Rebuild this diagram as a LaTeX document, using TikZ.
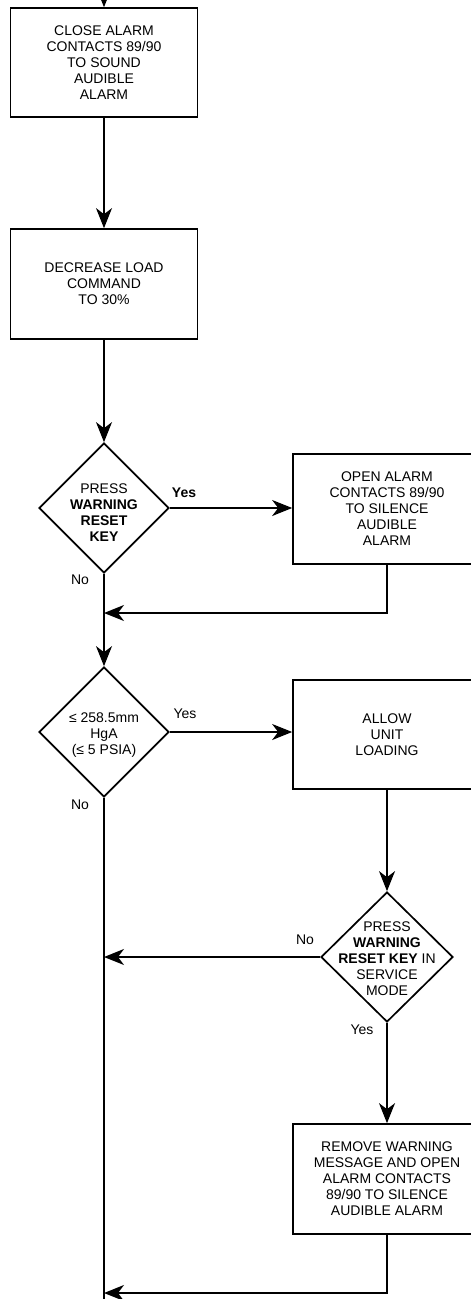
\documentclass[tikz,border=0pt]{standalone}
\usepackage{fontspec}
\setmainfont{Liberation Sans}
\usetikzlibrary{shapes.geometric,arrows.meta}
\begin{document}
\begin{tikzpicture}[x=1pt,y=-1pt,
  every node/.style={font=\fontsize{14}{16}\selectfont},
  boxnode/.style={draw,line width=1.7pt,inner sep=0pt,align=center},
  dia/.style={draw,shape=diamond,line width=1.7pt,inner sep=0pt,aspect=1},
  txt/.style={align=center,inner sep=0pt},
  lbl/.style={inner sep=0pt},
  flow/.style={line width=1.6pt},
  arr/.style={flow,-{Stealth[length=20pt,width=16pt,inset=6pt]}}]
\useasboundingbox (0,0) rectangle (471,1299);
\clip (0,0) rectangle (471,1299);
% left column
\node[boxnode,minimum width=187pt,minimum height=109pt] (b1) at (104,62.5)
  {CLOSE ALARM\\CONTACTS 89/90\\TO SOUND\\AUDIBLE\\ALARM};
\node[boxnode,minimum width=187pt,minimum height=110pt] (b2) at (104,284)
  {DECREASE LOAD\\COMMAND\\TO 30\%};
\node[dia,minimum width=130pt,minimum height=130pt] (d1) at (104,508) {};
\node[txt] (d1t) at (104,513) {PRESS\\\textbf{WARNING}\\\textbf{RESET}\\\textbf{KEY}};
\node[dia,minimum width=130pt,minimum height=130pt] (d2) at (104,732) {};
\node[txt] (d2t) at (104,735) {≤ 258.5mm\\HgA\\(≤ 5 PSIA)};
% right column
\node[boxnode,minimum width=188pt,minimum height=110pt] (b3) at (387,509)
  {OPEN ALARM\\CONTACTS 89/90\\TO SILENCE\\AUDIBLE\\ALARM};
\node[boxnode,minimum width=188pt,minimum height=109pt] (b4) at (387,734.5)
  {ALLOW\\UNIT\\LOADING};
\node[dia,minimum width=132pt,minimum height=130pt] (d3) at (387,957) {};
\node[txt] (d3t) at (387,959) {PRESS\\\textbf{WARNING}\\\textbf{RESET KEY} IN\\SERVICE\\MODE};
\node[boxnode,minimum width=188pt,minimum height=110pt] (b5) at (387,1179)
  {REMOVE WARNING\\MESSAGE AND OPEN\\ALARM CONTACTS\\89/90 TO SILENCE\\AUDIBLE ALARM};
% labels
\node[lbl] (y1) at (184,493) {\textbf{Yes}};
\node[lbl] (n1) at (80,580) {No};
\node[lbl] (y2) at (185,714) {Yes};
\node[lbl] (n2) at (80,805) {No};
\node[lbl] (n3) at (305,940) {No};
\node[lbl] (y3) at (362,1030) {Yes};
% coordinates
\coordinate (top) at (104,-25);
\coordinate (m1) at (104,613);
\coordinate (m2) at (104,957);
\coordinate (m3) at (104,1293);
\coordinate (bot) at (104,1320);
% connectors
\draw[arr] (top) -- (b1.north);
\draw[arr] (b1.south) -- (b2.north);
\draw[arr] (b2.south) -- (d1.north);
\draw[arr] (d1.east) -- (d1.east -| b3.west);
\draw[arr] (d1.south) -- (d2.north);
\draw[arr] (b3.south) |- (m1);
\draw[arr] (d2.east) -- (d2.east -| b4.west);
\draw[flow] (d2.south) -- (bot);
\draw[arr] (b4.south) -- (d3.north);
\draw[arr] (d3.west) -- (m2);
\draw[arr] (d3.south) -- (b5.north);
\draw[arr] (b5.south) |- (m3);
\end{tikzpicture}
\end{document}
